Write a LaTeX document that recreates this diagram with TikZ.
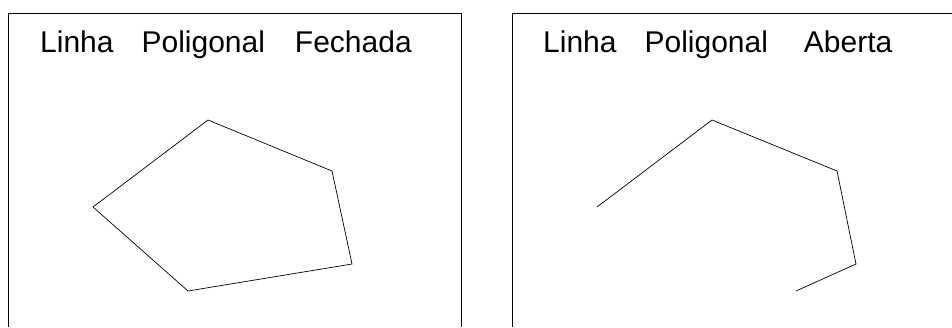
\documentclass[tikz,border=0pt]{standalone}
\usepackage{fontspec}
\setmainfont{Liberation Sans}
\begin{document}
\begin{tikzpicture}[x=1pt,y=-1pt]
    \useasboundingbox (0,0) rectangle (952,327);

    % frames
    \draw[line width=0.8pt] (8,327) -- (8,13) -- (461,13) -- (461,327);
    \draw[line width=0.8pt] (512,327) -- (512,13) -- (952,13);

    % titles
    \node[anchor=base west, inner sep=0pt] (tfech) at (40,52)
        {\fontsize{30}{36}\selectfont Linha\hspace{28pt}Poligonal\hspace{30pt}Fechada};
    \node[anchor=base west, inner sep=0pt] (taber) at (543,52)
        {\fontsize{30}{36}\selectfont Linha\hspace{28pt}Poligonal\hspace{36pt}Aberta};

    % closed polygon
    \coordinate (f1) at (93,207);
    \coordinate (f2) at (208,120);
    \coordinate (f3) at (332,171);
    \coordinate (f4) at (352,264);
    \coordinate (f5) at (188,291);
    \draw[line width=0.7pt] (f1) -- (f2) -- (f3) -- (f4) -- (f5) -- cycle;

    % open polygon
    \coordinate (a1) at (597,207);
    \coordinate (a2) at (712,120);
    \coordinate (a3) at (837,171);
    \coordinate (a4) at (856,264);
    \coordinate (a5) at (796,291);
    \draw[line width=0.7pt] (a1) -- (a2) -- (a3) -- (a4) -- (a5);

\end{tikzpicture}
\end{document}
